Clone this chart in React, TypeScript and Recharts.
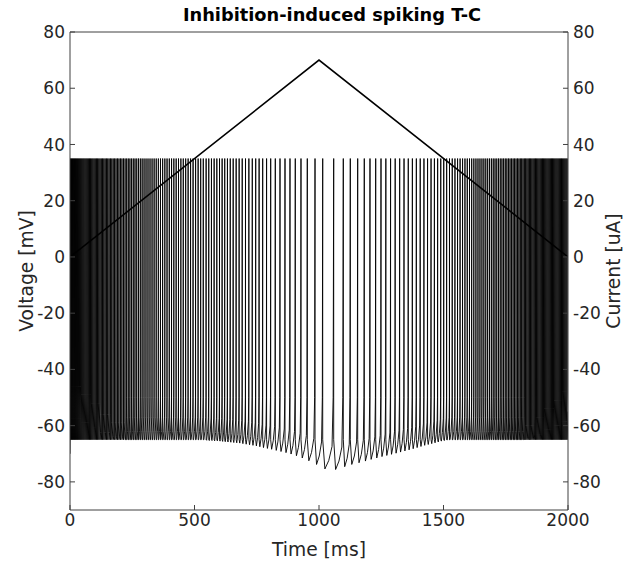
import React from 'react';
import { ComposedChart, Line, XAxis, YAxis, Label } from 'recharts';

// ---- tick labels ----
const timeTicks = [0, 500, 1000, 1500, 2000];
const voltageTicks = [-80, -60, -40, -20, 0, 20, 40, 60, 80];
const currentTicks = [-80, -60, -40, -20, 0, 20, 40, 60, 80];

// ---- spike times [ms] ----
const spikeTimes = [
  2, 6, 10, 14, 18.1, 22.2, 26.3, 30.4, 34.6, 38.8, 43, 47.3, 51.6, 55.9, 60.3, 64.7, 69.1, 73.6, 78.1, 82.7,
  87.3, 91.9, 96.6, 101.3, 106.1, 110.9, 115.8, 120.7, 125.7, 130.8, 135.9, 141.1, 146.3, 151.6, 157, 162.4,
  167.9, 173.5, 179.2, 184.9, 190.7, 196.6, 202.6, 208.7, 214.9, 221.2, 227.6, 234.1, 240.7, 247.4, 254.2,
  261.1, 268.1, 275.2, 282.4, 289.7, 297.4, 305.3, 313.3, 321.4, 329.6, 337.9, 346.3, 354.8, 363.4, 372.1,
  380.9, 389.8, 398.8, 407.9, 417.1, 426.4, 435.8, 445.3, 454.9, 464.6, 474.4, 484.3, 494.3, 504.4, 514.6,
  524.9, 535.3, 546.7, 557.3, 568.1, 578.9, 589.7, 600.5, 611, 621.4, 632.3, 643.6, 655.4, 667.3, 679.3,
  691.7, 704.9, 718.4, 732.1, 745.8, 759.5, 773.9, 789.5, 806, 824.5, 843.4, 863.5, 883.5, 904.8, 927.7, 953,
  984, 1014.9, 1059, 1097.6, 1125.7, 1155.4, 1181.9, 1204.8, 1227.7, 1249, 1268.5, 1287.5, 1306, 1324, 1341.5,
  1358.5, 1375, 1391, 1406.5, 1421.5, 1436, 1450, 1463.5, 1476.5, 1489, 1501, 1512.7, 1524.1, 1535.2, 1546,
  1556.5, 1566.7, 1576.6, 1586.2, 1595.5, 1604.5, 1613.3, 1621.9, 1630.3, 1638.5, 1646.5, 1654.4, 1662.2,
  1669.9, 1677.5, 1685, 1692.4, 1699.7, 1706.9, 1714, 1721, 1727.9, 1734.7, 1741.4, 1748, 1754.5, 1760.9,
  1767.2, 1773.4, 1779.5, 1785.5, 1791.4, 1797.2, 1802.9, 1808.5, 1814, 1819.4, 1824.7, 1829.9, 1835, 1840,
  1845, 1849.9, 1854.8, 1859.7, 1864.5, 1869.3, 1874.1, 1878.8, 1883.5, 1888.2, 1892.8, 1897.4, 1902, 1906.5,
  1911, 1915.5, 1920, 1924.5, 1929, 1933.5, 1938, 1942.5, 1947, 1951.5, 1956, 1960.5, 1965, 1969.5, 1974,
  1978.5, 1983, 1987.5, 1992, 1996.5,
];

// ---- lowest voltage [mV] reached after a spike (only where it dips below the reset level) ----
const troughTable: [number, number][] = [
  [546.7, -65.2], [557.3, -65.3], [568.1, -65.3], [578.9, -65.4], [589.7, -65.4], [600.5, -65.5],
  [611, -65.6], [621.4, -65.7], [632.3, -65.8], [643.6, -65.9], [655.4, -66], [667.3, -66.1],
  [679.3, -66.2], [691.7, -66.4], [704.9, -66.6], [718.4, -66.8], [732.1, -67], [745.8, -67.2],
  [759.5, -67.5], [773.9, -67.8], [789.5, -68.1], [806, -68.4], [824.5, -68.8], [843.4, -69.2],
  [863.5, -69.6], [883.5, -70.1], [904.8, -70.7], [927.7, -71.5], [953, -72.5], [984, -73.8],
  [1014.9, -75.4], [1059, -75.6], [1097.6, -74.6], [1125.7, -73.8], [1155.4, -73.2], [1181.9, -72.6],
  [1204.8, -72], [1227.7, -71.5], [1249, -71], [1268.5, -70.6], [1287.5, -70.2], [1306, -69.8],
  [1324, -69.4], [1341.5, -69], [1358.5, -68.6], [1375, -68.2], [1391, -67.8], [1406.5, -67.4],
  [1421.5, -67], [1436, -66.7], [1450, -66.4], [1463.5, -66.1], [1476.5, -65.8], [1489, -65.5],
  [1501, -65.3], [1512.7, -65.1],
];

// ---- voltage where the trace lingers before the upstroke, near both ends: [from ms, to ms, mV] ----
const lingerRanges: [number, number, number][] = [
  [0, 40, -46],
  [40, 80, -49],
  [80, 120, -52],
  [120, 160, -56],
  [160, 220, -59],
  [1820, 1860, -60],
  [1860, 1900, -57],
  [1900, 1940, -54],
  [1940, 1970, -51],
  [1970, 2000, -48],
];

const peakV = 35;
const resetV = -65;
const upstrokeV = -50;
const startV = -70;
const endV = -55;

// ---- injected current (triangle) ----
const currentTimes = [0, 1000, 2000];
const currentValues = [0, 70, 0];

// ---- build the tables the library needs ----
const troughMap = new Map<number, number>(troughTable);
const lingerFor = (t: number) => {
  const r = lingerRanges.find(([a, b]) => t >= a && t < b);
  return r ? r[2] : null;
};
const voltageData: { t: number; v: number }[] = [];
voltageData.push({ t: 0, v: startV });
voltageData.push({ t: spikeTimes[0] * 0.8, v: upstrokeV });
voltageData.push({ t: spikeTimes[0], v: peakV });
for (let i = 0; i < spikeTimes.length; i++) {
  const t = spikeTimes[i];
  voltageData.push({ t, v: resetV });
  if (i + 1 < spikeTimes.length) {
    const next = spikeTimes[i + 1];
    const isi = next - t;
    const linger = lingerFor(t);
    if (linger !== null) {
      voltageData.push({ t: t + 0.35 * isi, v: (resetV + linger) / 2 - 2 });
      voltageData.push({ t: t + 0.85 * isi, v: linger });
    } else {
      const trough = troughMap.has(t) ? (troughMap.get(t) as number) : resetV;
      voltageData.push({ t: t + 0.2 * isi, v: trough });
      voltageData.push({ t: t + 0.55 * isi, v: trough + 3 });
      voltageData.push({ t: t + 0.85 * isi, v: trough + 8 });
      voltageData.push({ t: t + 0.95 * isi, v: upstrokeV });
    }
    voltageData.push({ t: next, v: peakV });
  } else {
    voltageData.push({ t: 2000, v: endV });
  }
}
const currentData = currentTimes.map((t, i) => ({ t, c: currentValues[i] }));

const FONT = '"DejaVu Sans", Verdana, sans-serif';
const AX = '#404040';
const TXT = '#262626';
const tickStyle = { fill: TXT, fontSize: 17, fontFamily: FONT };

const TextLabel = (x: number, y: number, text: string, opts: any = {}) => () =>
  (
    <text
      x={x}
      y={y}
      textAnchor="middle"
      dominantBaseline="central"
      fill={opts.fill || TXT}
      fontSize={opts.fontSize || 18.7}
      fontWeight={opts.fontWeight || 'normal'}
      fontFamily={FONT}
      transform={opts.rotate ? `rotate(${opts.rotate}, ${x}, ${y})` : undefined}
    >
      {text}
    </text>
  );

export default function App() {
  return (
    <div style={{ position: 'absolute', left: 0, top: 0, width: 641, height: 563, background: '#fff' }}>
      <ComposedChart width={641} height={563} margin={{ top: 31, right: 13, bottom: 3, left: 10 }}>
        <XAxis
          xAxisId="bottom"
          dataKey="t"
          type="number"
          domain={[0, 2000]}
          ticks={timeTicks}
          orientation="bottom"
          height={50}
          allowDataOverflow
          stroke={AX}
          tickSize={-5}
          tickMargin={9}
          tick={tickStyle}
          interval={0}
        >
          <Label content={TextLabel(319, 549, 'Time [ms]')} />
        </XAxis>
        <XAxis
          xAxisId="top"
          dataKey="t"
          type="number"
          domain={[0, 2000]}
          ticks={timeTicks}
          orientation="top"
          height={1}
          allowDataOverflow
          stroke={AX}
          tickSize={-5}
          tick={false}
          interval={0}
        >
          <Label
            content={TextLabel(332, 14, 'Inhibition-induced spiking T-C', {
              fontWeight: 'bold',
              fill: '#000',
              fontSize: 17.8,
            })}
          />
        </XAxis>
        <YAxis
          yAxisId="left"
          type="number"
          domain={[-90, 80]}
          ticks={voltageTicks}
          orientation="left"
          width={60}
          allowDataOverflow
          stroke={AX}
          tickSize={-5}
          tickMargin={10}
          tick={tickStyle}
          interval={0}
        >
          <Label content={TextLabel(26, 271, 'Voltage [mV]', { rotate: -90 })} />
        </YAxis>
        <YAxis
          yAxisId="right"
          type="number"
          domain={[-90, 80]}
          ticks={currentTicks}
          orientation="right"
          width={60}
          allowDataOverflow
          stroke={AX}
          tickSize={-5}
          tickMargin={10}
          tick={tickStyle}
          interval={0}
        >
          <Label content={TextLabel(613, 271, 'Current [uA]', { rotate: -90 })} />
        </YAxis>
        <Line
          data={currentData}
          xAxisId="top"
          yAxisId="right"
          dataKey="c"
          type="linear"
          stroke="none"
          strokeWidth={0}
          dot={false}
          activeDot={false}
          legendType="none"
          isAnimationActive={false}
        />
        <Line
          data={voltageData}
          xAxisId="bottom"
          yAxisId="left"
          dataKey="v"
          type="linear"
          stroke="#000"
          strokeWidth={0.9}
          dot={false}
          activeDot={false}
          isAnimationActive={false}
        />
        <Line
          data={currentData}
          xAxisId="bottom"
          yAxisId="right"
          dataKey="c"
          type="linear"
          stroke="#000"
          strokeWidth={1.6}
          dot={false}
          activeDot={false}
          isAnimationActive={false}
        />
      </ComposedChart>
    </div>
  );
}
